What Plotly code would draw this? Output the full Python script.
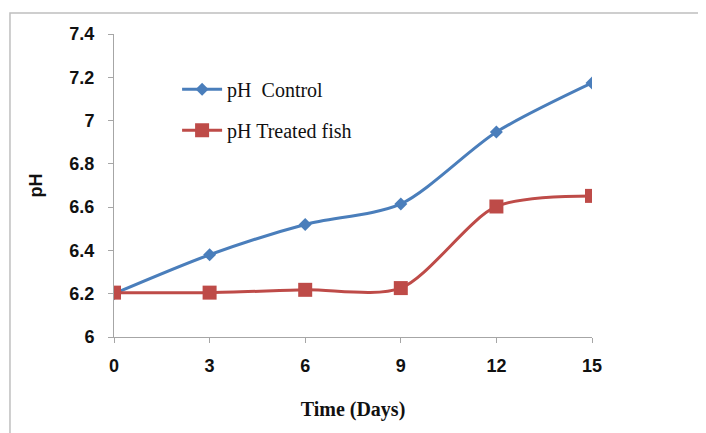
import plotly.graph_objects as go

days = [0, 3, 6, 9, 12, 15]
ph_control = [6.20, 6.38, 6.52, 6.615, 6.947, 7.174]
ph_treated = [6.205, 6.205, 6.218, 6.226, 6.603, 6.652]
x_ticks = [0, 3, 6, 9, 12, 15]
y_ticks = [6, 6.2, 6.4, 6.6, 6.8, 7, 7.2, 7.4]
y_tick_labels = ["6", "6.2", "6.4", "6.6", "6.8", "7", "7.2", "7.4"]

blue = "#4A7EBB"
red = "#BE4B48"

fig = go.Figure()
fig.add_trace(go.Scatter(
    x=days, y=ph_control, mode="lines+markers",
    name="pH  Control", legendgroup="a",
    line=dict(color=blue, width=3, shape="spline", smoothing=0.8),
    marker=dict(symbol="diamond", size=10, color=blue),
))
fig.add_trace(go.Scatter(
    x=days, y=ph_treated, mode="lines+markers",
    name="pH Treated fish", legendgroup="b",
    line=dict(color=red, width=3, shape="spline", smoothing=0.8),
    marker=dict(symbol="square", size=14, color=red),
))

axis_common = dict(
    showgrid=False, zeroline=False, showline=True,
    linecolor="#A6A6A6", linewidth=1,
    ticks="outside", ticklen=5, tickcolor="#A6A6A6",
    tickfont=dict(family="Liberation Sans", size=18, color="#111111", weight="bold"),
)

fig.update_layout(
    width=698, height=425,
    margin=dict(l=106, r=114, t=26, b=96),
    paper_bgcolor="white", plot_bgcolor="white",
    xaxis=dict(range=[0, 15], tickvals=x_ticks, ticklabelstandoff=7, **axis_common,
               title=dict(text="<b>Time (Days)</b>", standoff=27,
                          font=dict(family="Liberation Serif", size=20, color="#111111"))),
    yaxis=dict(range=[6, 7.4], tickvals=y_ticks, ticktext=y_tick_labels,
               ticklabelstandoff=10, **axis_common,
               title=dict(text="<b>pH</b>", standoff=22,
                          font=dict(family="Liberation Sans", size=18, color="#111111"))),
    legend=dict(x=0.132, y=0.882, xanchor="left", yanchor="top",
                bgcolor="rgba(0,0,0,0)", traceorder="grouped", tracegroupgap=12,
                itemwidth=40,
                font=dict(family="Liberation Serif", size=20, color="#111111")),
    shapes=[dict(type="rect", xref="paper", yref="paper",
                 x0=-0.2176, x1=1.6, y0=-0.6, y1=1.069,
                 line=dict(color="#BFBFBF", width=1.5), layer="below")],
)

fig.write_html("out.html")
